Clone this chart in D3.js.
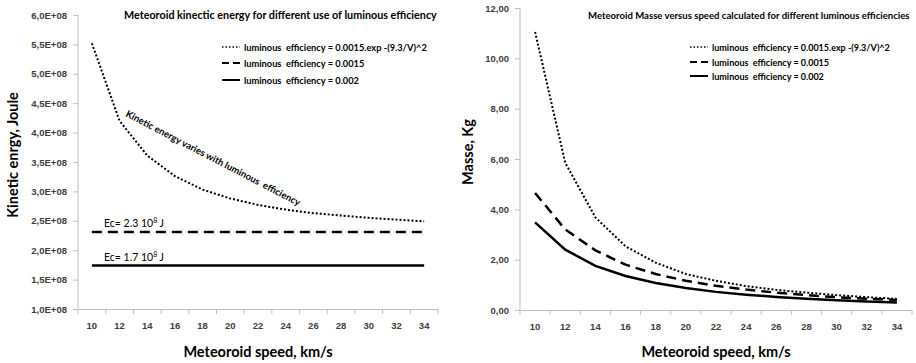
<!DOCTYPE html>
<html>
<head>
<meta charset="utf-8">
<script src="https://cdn.jsdelivr.net/npm/d3@7"></script>
<style>
  body { margin: 0; background: #fff; }
  svg { font-family: Lato, "Open Sans", sans-serif; }
  .tick text { font-size: 9.5px; font-weight: bold; fill: #404040; }
</style>
</head>
<body>
<svg width="916" height="363"></svg>
<script>
// speeds shared by both panels
var speeds = [10, 12, 14, 16, 18, 20, 22, 24, 26, 28, 30, 32, 34];

// left panel: kinetic energy (J)
var energyVar = [5.52e8, 4.20e8, 3.61e8, 3.26e8, 3.03e8, 2.88e8, 2.77e8, 2.69e8, 2.63e8, 2.59e8, 2.55e8, 2.52e8, 2.49e8];
var energy15 = [2.31e8, 2.31e8, 2.31e8, 2.31e8, 2.31e8, 2.31e8, 2.31e8, 2.31e8, 2.31e8, 2.31e8, 2.31e8, 2.31e8, 2.31e8];
var energy20 = [1.74e8, 1.74e8, 1.74e8, 1.74e8, 1.74e8, 1.74e8, 1.74e8, 1.74e8, 1.74e8, 1.74e8, 1.74e8, 1.74e8, 1.74e8];
var energyTicks = [1.0e8, 1.5e8, 2.0e8, 2.5e8, 3.0e8, 3.5e8, 4.0e8, 4.5e8, 5.0e8, 5.5e8, 6.0e8];

// right panel: mass (kg)
var massVar = [11.05, 5.85, 3.68, 2.53, 1.88, 1.43, 1.16, 0.95, 0.80, 0.69, 0.59, 0.51, 0.44];
var mass15 = [4.65, 3.20, 2.37, 1.80, 1.43, 1.16, 0.96, 0.81, 0.69, 0.59, 0.51, 0.45, 0.40];
var mass20 = [3.48, 2.40, 1.75, 1.35, 1.07, 0.87, 0.72, 0.61, 0.52, 0.45, 0.39, 0.34, 0.30];
var massTicks = [0, 2, 4, 6, 8, 10, 12];

var legendLabels = [
  "luminous  efficiency = 0.0015.exp -(9.3/V)^2",
  "luminous  efficiency = 0.0015",
  "luminous  efficiency = 0.002"
];
var styles = [
  { dash: "2,2", width: 2 },
  { dash: "10,6", width: 2.5 },
  { dash: null, width: 2.5 }
];

var svg = d3.select("svg");

// shrink/grow a text's font so it spans the wanted width
function fitSize(sel, width) {
  var size = parseFloat(sel.style("font-size"));
  var len = sel.node().getComputedTextLength();
  return size * width / len;
}

function panel(opt) {
  var x = d3.scaleBand().domain(speeds).range(opt.xRange);
  var y = d3.scaleLinear().domain(opt.yDomain).range(opt.yRange);
  var g = svg.append("g");

  // y axis
  var yAxis = d3.axisLeft(y).tickValues(opt.yTicks).tickSize(5).tickPadding(6).tickFormat(opt.fmt);
  var ya = g.append("g").attr("transform", `translate(${opt.xRange[0]},0)`).call(yAxis);
  ya.selectAll("path, line").attr("stroke", "#bfbfbf");
  ya.select(".domain").attr("d", `M0,${opt.yRange[0]}V${opt.yRange[1]}`);

  // x axis: labels at band centres, ticks at band edges
  var xAxis = d3.axisBottom(x).tickSize(0).tickPadding(13);
  var xa = g.append("g").attr("transform", `translate(0,${opt.yRange[0]})`).call(xAxis);
  xa.select(".domain").attr("stroke", "#bfbfbf");
  var edges = speeds.map(s => x(s)).concat([opt.xRange[1]]);
  xa.selectAll(".edge").data(edges).enter().append("line")
    .attr("x1", d => d).attr("x2", d => d)
    .attr("y1", 0).attr("y2", 5)
    .attr("stroke", "#bfbfbf");

  // series
  var line = d3.line()
    .x((d, i) => x(speeds[i]) + x.bandwidth() / 2)
    .y(d => y(d));
  opt.series.forEach(function(s, k) {
    g.append("path")
      .attr("d", line(s))
      .attr("fill", "none")
      .attr("stroke", "#000")
      .attr("stroke-width", styles[k].width)
      .attr("stroke-dasharray", styles[k].dash);
  });

  // titles
  var title = g.append("text")
    .attr("x", opt.titleX).attr("y", 19)
    .style("font-size", "10px").style("font-weight", "bold")
    .text(opt.title);
  title.style("font-size", fitSize(title, opt.titleW) + "px");

  g.append("text")
    .attr("transform", `translate(${opt.yTitleX},${opt.yTitleY}) rotate(-90)`)
    .attr("text-anchor", "middle")
    .style("font-size", "14.5px").style("font-weight", "bold")
    .text(opt.yTitle);

  g.append("text")
    .attr("x", (opt.xRange[0] + opt.xRange[1]) / 2).attr("y", 357)
    .attr("text-anchor", "middle")
    .style("font-size", "14.5px").style("font-weight", "bold")
    .text("Meteoroid speed, km/s");

  // legend
  var texts = [];
  legendLabels.forEach(function(t, k) {
    var ly = opt.legendY[k];
    g.append("line")
      .attr("x1", opt.legendX).attr("x2", opt.legendX + 18)
      .attr("y1", ly).attr("y2", ly)
      .attr("stroke", "#000")
      .attr("stroke-width", k === 0 ? 1.5 : 2)
      .attr("stroke-dasharray", k === 0 ? "1.5,2" : k === 1 ? "7,4" : null);
    texts.push(g.append("text")
      .attr("x", opt.legendX + 22).attr("y", ly + 3.5)
      .style("font-size", "10px").style("font-weight", "bold")
      .style("white-space", "pre")
      .text(t));
  });
  var ls = fitSize(texts[0], opt.legendW);
  texts.forEach(t => t.style("font-size", ls + "px"));

  return { x: x, y: y, g: g };
}

var left = panel({
  xRange: [78, 438], yDomain: [1e8, 6e8], yRange: [309, 15], yTicks: energyTicks,
  fmt: v => (v / 1e8).toFixed(1).replace(".", ",") + "E+08",
  series: [energyVar, energy15, energy20],
  title: "Meteoroid kinectic energy for different use of luminous efficiency",
  titleX: 124, titleW: 313,
  yTitle: "Kinetic enrgy, Joule", yTitleX: 18, yTitleY: 155,
  legendX: 222, legendY: [47, 63, 80], legendW: 183
});

var right = panel({
  xRange: [520, 912], yDomain: [0, 12], yRange: [310, 8], yTicks: massTicks,
  fmt: v => v.toFixed(2).replace(".", ","),
  series: [massVar, mass15, mass20],
  title: "Meteoroid Masse versus speed calculated for different luminous efficiencies",
  titleX: 588, titleW: 322,
  yTitle: "Masse, Kg", yTitleX: 473, yTitleY: 152,
  legendX: 690, legendY: [47, 62, 76], legendW: 178
});

// annotations on the left panel
left.g.append("text")
  .attr("transform", "translate(125,116) rotate(27.5)")
  .style("font-size", "9.5px").style("font-weight", "bold")
  .style("white-space", "pre")
  .text("Kinetic energy varies with luminous  efficiency");

function ecLabel(val, yPos) {
  var t = left.g.append("text")
    .attr("x", 104).attr("y", yPos)
    .style("font-size", "10.5px");
  t.append("tspan").text("Ec= " + val + " 10");
  t.append("tspan").attr("dy", -4).style("font-size", "7px").text("8");
  t.append("tspan").attr("dy", 4).text(" J");
}
ecLabel("2.3", left.y(energy15[0]) - 5);
ecLabel("1.7", left.y(energy20[0]) - 4);
</script>
</body>
</html>
